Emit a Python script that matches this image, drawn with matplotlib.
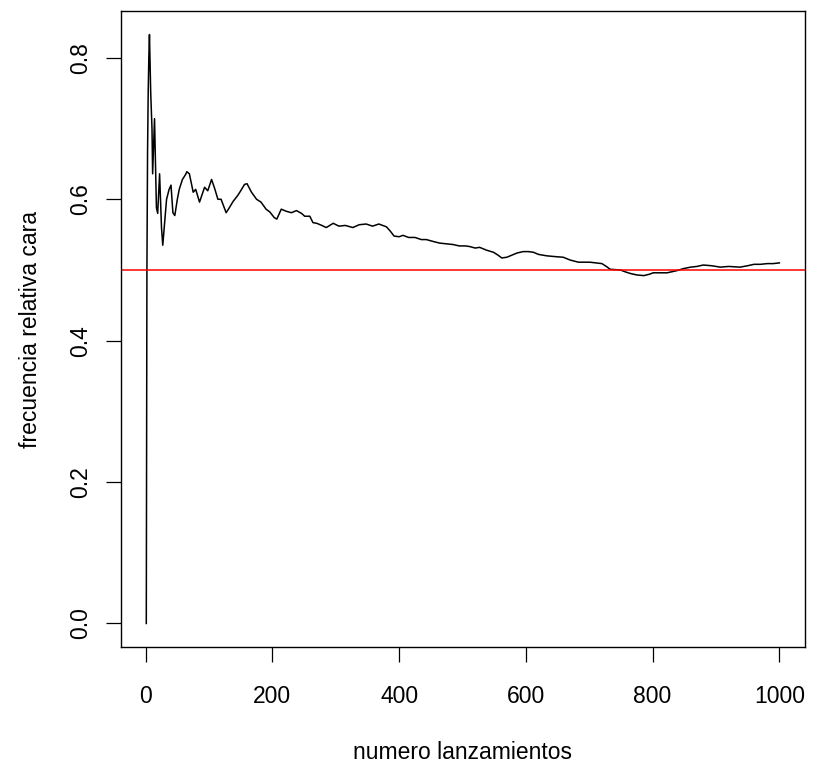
import matplotlib
matplotlib.use("Agg")
import matplotlib.pyplot as plt

# running relative frequency of heads at sample tosses
tosses = [
    1, 2, 3, 4, 5, 6, 8, 10, 11, 14, 17, 19, 22, 25, 27, 30, 33, 37, 40, 43,
    46, 50, 53, 58, 63, 65, 69, 75, 79, 85, 93, 98, 104, 109, 114, 119, 127,
    132, 138, 145, 150, 156, 160, 167, 175, 182, 190, 196, 203, 207, 214, 222,
    230, 238, 246, 251, 259, 264, 270, 278, 285, 296, 305, 315, 327, 337, 348,
    358, 368, 380, 386, 392, 400, 406, 415, 425, 435, 443, 455, 464, 475, 485,
    495, 505, 512, 520, 527, 538, 549, 556, 562, 570, 578, 586, 596, 604, 612,
    620, 633, 645, 659, 670, 683, 701, 710, 720, 727, 733, 749, 758, 765, 775,
    786, 795, 801, 812, 823, 838, 849, 860, 870, 880, 893, 907, 920, 938, 950,
    960, 970, 981, 990, 1000,
]
freq = [
    0.0, 0.5, 0.667, 0.75, 0.8, 0.833, 0.75, 0.70, 0.636, 0.714, 0.588, 0.58,
    0.636, 0.56, 0.535, 0.567, 0.60, 0.614, 0.62, 0.581, 0.577, 0.60, 0.614,
    0.628, 0.635, 0.639, 0.636, 0.61, 0.614, 0.596, 0.617, 0.612, 0.628, 0.615,
    0.60, 0.60, 0.581, 0.588, 0.597, 0.605, 0.612, 0.621, 0.622, 0.61, 0.60,
    0.596, 0.586, 0.582, 0.574, 0.572, 0.586, 0.583, 0.581, 0.584, 0.580,
    0.576, 0.576, 0.567, 0.566, 0.563, 0.56, 0.566, 0.562, 0.563, 0.56, 0.564,
    0.565, 0.562, 0.565, 0.561, 0.555, 0.548, 0.547, 0.549, 0.546, 0.546,
    0.543, 0.543, 0.540, 0.538, 0.537, 0.536, 0.534, 0.534, 0.533, 0.531,
    0.532, 0.528, 0.525, 0.521, 0.517, 0.518, 0.521, 0.524, 0.526, 0.526,
    0.525, 0.522, 0.52, 0.519, 0.518, 0.514, 0.511, 0.511, 0.510, 0.509,
    0.505, 0.501, 0.50, 0.497, 0.495, 0.493, 0.492, 0.494, 0.496, 0.496,
    0.496, 0.499, 0.502, 0.504, 0.505, 0.507, 0.506, 0.504, 0.505, 0.504,
    0.506, 0.508, 0.508, 0.509, 0.509, 0.51,
]
expected = 0.5

x_ticks = [0, 200, 400, 600, 800, 1000]
y_ticks = [0.0, 0.2, 0.4, 0.6, 0.8]

plt.rcParams["font.family"] = ["Liberation Sans", "DejaVu Sans"]
fs = 16.5

fig = plt.figure(figsize=(8.19, 7.63), dpi=100)
ax = fig.add_axes([0.1477, 0.152, 0.8348, 0.8336])

ax.plot(tosses, freq, color="black", linewidth=1.1)
ax.axhline(expected, color="red", linewidth=1.1)

# R-style 4% padding on both axes
xr = max(tosses) - min(tosses)
ax.set_xlim(min(tosses) - 0.04 * xr, max(tosses) + 0.04 * xr)
yr = max(freq) - min(freq)
ax.set_ylim(min(freq) - 0.04 * yr, max(freq) + 0.04 * yr)

ax.set_xticks(x_ticks)
ax.set_xticklabels([str(t) for t in x_ticks])
ax.set_yticks(y_ticks)
ax.set_yticklabels([f"{t:.1f}" for t in y_ticks], rotation=90, va="center")
ax.tick_params(direction="out", length=10.5, width=0.9, labelsize=fs,
               color="black")
ax.tick_params(axis="x", pad=17)
ax.tick_params(axis="y", pad=10)
for sp in ax.spines.values():
    sp.set_linewidth(1.0)

ax.set_xlabel("numero lanzamientos", fontsize=fs, va="center")
ax.xaxis.set_label_coords(0.5, -0.166)
ax.set_ylabel("frecuencia relativa cara", fontsize=fs, va="center")
ax.yaxis.set_label_coords(-0.132, 0.5)

fig.savefig("out.png", dpi=100)
plt.close(fig)
